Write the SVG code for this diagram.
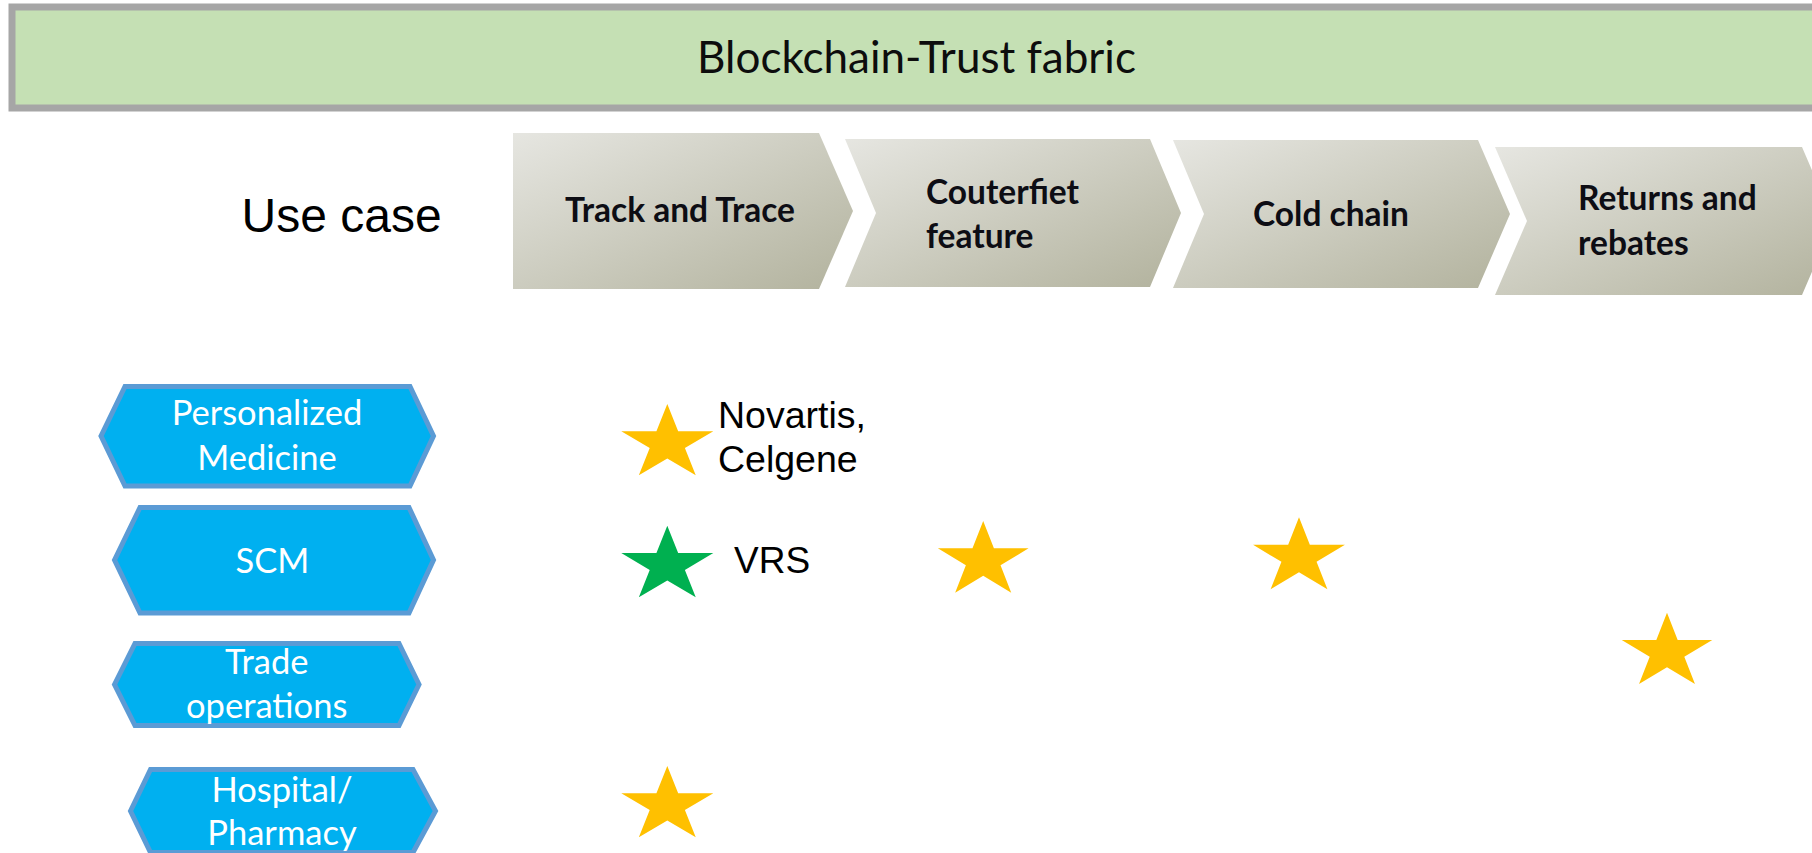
<svg xmlns="http://www.w3.org/2000/svg" xmlns:xlink="http://www.w3.org/1999/xlink" width="1812" height="853" viewBox="0 0 1812 853">
<style>
.title{font-family:Lato,"Liberation Sans",sans-serif;font-size:44px;fill:#0d0d0d}
.chev{fill:url(#chevGrad)}
.chevtxt{font-family:Lato,"Liberation Sans",sans-serif;font-size:33.5px;font-weight:bold;fill:#0d0d14}
.hex{fill:#00B0F0;stroke:#5B9BD5;stroke-width:5;stroke-linejoin:miter}
.hextxt{font-family:Lato,"Liberation Sans",sans-serif;font-size:34.5px;fill:#ffffff;text-anchor:middle}
.arial{font-family:"Liberation Sans",Arial,sans-serif;fill:#000000}
.gold{fill:#FFC000}
.green{fill:#00B050}
</style>
<defs>
<linearGradient id="chevGrad" x1="0" y1="0" x2="1" y2="1">
<stop offset="0" stop-color="#E6E6E1"/>
<stop offset="1" stop-color="#B2B29D"/>
</linearGradient>
<path id="star" d="M0,-1 L0.2245,-0.309 L0.951,-0.309 L0.3633,0.118 L0.5878,0.809 L0,0.382 L-0.5878,0.809 L-0.3633,0.118 L-0.951,-0.309 L-0.2245,-0.309 Z"/>
</defs>
<rect width="1812" height="853" fill="#ffffff"/>

<g id="header">
<rect x="12" y="7" width="1812" height="101" fill="#C5E0B4" stroke="#A6A6A6" stroke-width="7"/>
<text class="title" x="916.5" y="72.5" text-anchor="middle">Blockchain-Trust fabric</text>
</g>

<g id="use-case-label">
<text class="arial" x="241.5" y="231.7" font-size="48">Use case</text>
</g>

<g id="chevron-track">
<polygon class="chev" points="513,133 819,133 853,211 819,289 513,289"/>
<text class="chevtxt" x="565" y="222">Track and Trace</text>
</g>
<g id="chevron-counterfeit">
<polygon class="chev" points="845,139 1150,139 1181,213 1150,287 845,287 876,213"/>
<text class="chevtxt" x="926" y="204">Couterfiet</text>
<text class="chevtxt" x="926" y="248">feature</text>
</g>
<g id="chevron-cold">
<polygon class="chev" points="1173,140 1478,140 1510,214 1478,288 1173,288 1204,214"/>
<text class="chevtxt" x="1253" y="226">Cold chain</text>
</g>
<g id="chevron-returns">
<polygon class="chev" points="1495,147 1802,147 1834,221 1802,295 1495,295 1527,221"/>
<text class="chevtxt" x="1578" y="210">Returns and</text>
<text class="chevtxt" x="1578" y="255">rebates</text>
</g>

<g id="hex-personalized">
<polygon class="hex" points="101,436 125,386.5 410,386.5 433.5,436 410,486 125,486"/>
<text class="hextxt" x="267" y="425">Personalized</text>
<text class="hextxt" x="267" y="470">Medicine</text>
</g>
<g id="hex-scm">
<polygon class="hex" points="114.5,560 140,507.5 409,507.5 433.5,560 409,613 140,613"/>
<text class="hextxt" x="272.5" y="572.7">SCM</text>
</g>
<g id="hex-trade">
<polygon class="hex" points="114.5,684.5 135,643.5 399,643.5 419,684.5 399,725.5 135,725.5"/>
<text class="hextxt" x="266.7" y="674">Trade</text>
<text class="hextxt" x="266.7" y="718">operations</text>
</g>
<g id="hex-hospital">
<polygon class="hex" points="130.5,811 150.5,769.5 413,769.5 435.5,811 413,852.5 150.5,852.5"/>
<text class="hextxt" x="282" y="801.7">Hospital/</text>
<text class="hextxt" x="282" y="845">Pharmacy</text>
</g>

<g id="star-personalized-track">
<use xlink:href="#star" href="#star" class="gold" transform="translate(667.3,443.4) scale(48.4,39.4)"/>
<text class="arial" x="718" y="428.3" font-size="37.5">Novartis,</text>
<text class="arial" x="718" y="471.7" font-size="37.5">Celgene</text>
</g>
<g id="star-scm-track">
<use xlink:href="#star" href="#star" class="green" transform="translate(667.3,565.3) scale(48.4,39.6)"/>
<text class="arial" x="734" y="573" font-size="37">VRS</text>
</g>
<g id="star-scm-counterfeit">
<use xlink:href="#star" href="#star" class="gold" transform="translate(983.2,560.6) scale(47.7,39.6)"/>
</g>
<g id="star-scm-cold">
<use xlink:href="#star" href="#star" class="gold" transform="translate(1299,557.1) scale(48.3,39.8)"/>
</g>
<g id="star-trade-returns">
<use xlink:href="#star" href="#star" class="gold" transform="translate(1667,652.1) scale(47.6,39.4)"/>
</g>
<g id="star-hospital-track">
<use xlink:href="#star" href="#star" class="gold" transform="translate(667.3,805.4) scale(48.4,39.4)"/>
</g>

<g id="connectors"/>
</svg>
